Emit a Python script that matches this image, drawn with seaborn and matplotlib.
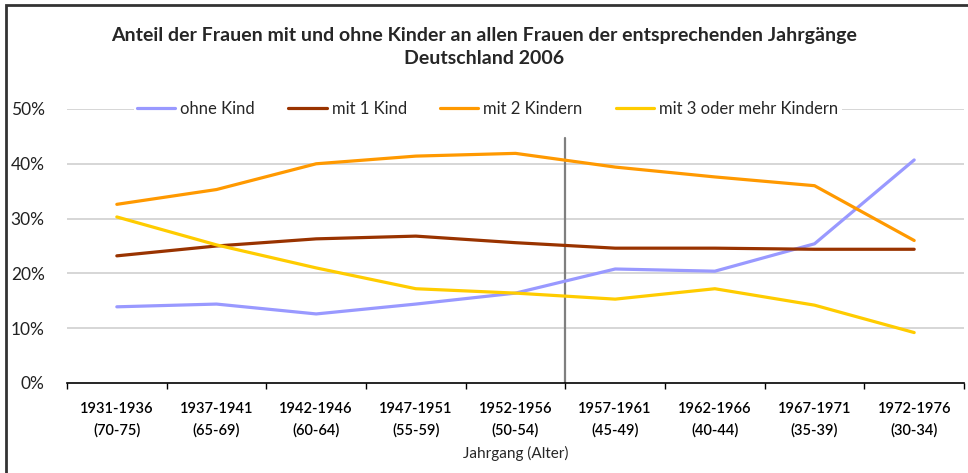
import numpy as np
import pandas as pd
import matplotlib.pyplot as plt
import seaborn as sns
from matplotlib.patches import Rectangle
from matplotlib.ticker import FixedLocator, PercentFormatter

# ── Data ───────────────────────────────────────────────────
jahrgaenge = ["1931-1936\n(70-75)", "1937-1941\n(65-69)", "1942-1946\n(60-64)",
              "1947-1951\n(55-59)", "1952-1956\n(50-54)", "1957-1961\n(45-49)",
              "1962-1966\n(40-44)", "1967-1971\n(35-39)", "1972-1976\n(30-34)"]
ohne_kind = [13.9, 14.4, 12.6, 14.4, 16.4, 20.8, 20.4, 25.4, 40.7]
mit_1_kind = [23.2, 25.0, 26.3, 26.8, 25.6, 24.6, 24.6, 24.4, 24.4]
mit_2_kindern = [32.6, 35.3, 40.0, 41.4, 41.9, 39.4, 37.6, 36.0, 26.0]
mit_3_kindern = [30.3, 25.2, 21.0, 17.2, 16.4, 15.3, 17.2, 14.2, 9.2]
series_names = ["ohne Kind", "mit 1 Kind", "mit 2 Kindern", "mit 3 oder mehr Kindern"]
COLORS = ["#9999FF", "#993300", "#FF9900", "#FFCC00"]

df = pd.DataFrame({
    "pos": list(range(len(jahrgaenge))) * 4,
    "Anteil": ohne_kind + mit_1_kind + mit_2_kindern + mit_3_kindern,
    "Gruppe": np.repeat(series_names, len(jahrgaenge)),
})

# ── Style ──────────────────────────────────────────────────
sns.set_style("white")
plt.rcParams["font.family"] = ["Lato", "DejaVu Sans"]

fig = plt.figure(figsize=(9.68, 4.73), dpi=100)
ax = fig.add_axes([0.0692, 0.1903, 0.9267, 0.5793])

# grid lines
for v in [10, 20, 30, 40, 50]:
    ax.axhline(v, color="#D0D0D0", lw=1.2, zorder=0)

sns.lineplot(data=df, x="pos", y="Anteil", hue="Gruppe", hue_order=series_names,
             palette=COLORS, linewidth=2.3, ax=ax, legend=False, zorder=3)

# vertical separator between 1952-1956 and 1957-1961
ax.axvline(4.5, ymin=0, ymax=0.894, color="#7F7F7F", lw=1.6, zorder=2)

ax.set_xlim(-0.5, len(jahrgaenge) - 0.5)
ax.set_ylim(0, 50)
ax.yaxis.set_major_locator(FixedLocator([0, 10, 20, 30, 40, 50]))
ax.yaxis.set_major_formatter(PercentFormatter(decimals=0))
ax.set_xticks(range(len(jahrgaenge)))
ax.set_xticklabels(jahrgaenge, fontsize=10.5, linespacing=1.6, color="black",
                   fontweight="semibold")
ax.xaxis.set_minor_locator(FixedLocator(np.arange(-0.5, len(jahrgaenge), 1)))
ax.tick_params(axis="x", which="major", length=0, pad=14)
ax.tick_params(axis="x", which="minor", length=4, width=1, color="black",
               direction="out", bottom=True)
ax.tick_params(axis="y", length=0, pad=16, labelsize=12.5, labelcolor="#222222")

for s in ["left", "right", "top"]:
    ax.spines[s].set_visible(False)
ax.spines["bottom"].set_color("black")
ax.spines["bottom"].set_linewidth(1.2)

ax.set_xlabel("Jahrgang (Alter)", fontsize=11, labelpad=6)
ax.set_ylabel("")

handles = [plt.Line2D([], [], color=c, lw=2.3) for c in COLORS]
leg = ax.legend(handles, series_names, loc="center", bbox_to_anchor=(0.469, 1.0),
                ncol=4, frameon=True, fontsize=12, handlelength=2.3,
                handletextpad=0.3, columnspacing=2.0, borderpad=0.2)
leg.get_frame().set_facecolor("white")
leg.get_frame().set_edgecolor("none")
leg.get_frame().set_alpha(1)
leg.set_zorder(5)

fig.text(0.5, 0.90, "Anteil der Frauen mit und ohne Kinder an allen Frauen der entsprechenden Jahrgänge\nDeutschland 2006",
         ha="center", va="center", fontsize=14, fontweight="bold", linespacing=1.45)

# outer border
fig.patches.append(Rectangle((6 / 968, -0.1), 1.1, 1 - 5 / 473 + 0.1,
                             transform=fig.transFigure, fill=False,
                             edgecolor="#333333", lw=2))

fig.savefig("out.png", dpi=100)
